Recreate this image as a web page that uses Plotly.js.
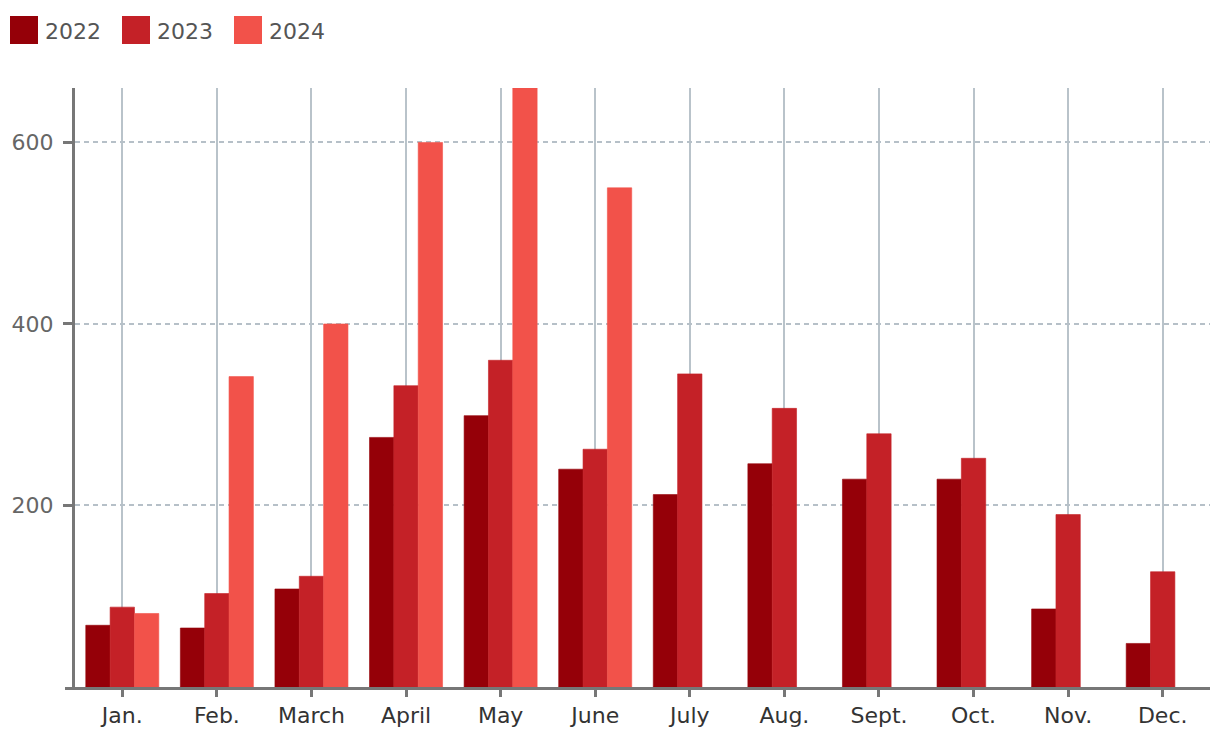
<!DOCTYPE html>
<html>
<head>
<meta charset="utf-8">
<script src="https://cdn.plot.ly/plotly-3.0.1.min.js"></script>
<style>html,body{margin:0;padding:0;background:#fff;}#chart{width:1220px;height:742px;}</style>
</head>
<body>
<div id="chart"></div>
<script>
const months = ["Jan.", "Feb.", "March", "April", "May", "June", "July", "Aug.", "Sept.", "Oct.", "Nov.", "Dec."];
const seriesNames = ["2022", "2023", "2024"];
const values2022 = [68, 65, 108, 275, 299, 240, 212, 246, 229, 229, 86, 48];
const values2023 = [88, 103, 122, 332, 360, 262, 345, 307, 279, 252, 190, 127];
const values2024 = [81, 342, 400, 600, 660, 550, null, null, null, null, null, null];
const colors = ["#950008", "#c42127", "#f2524a"];
const yTicks = [200, 400, 600];

const W = 1220, H = 742;
const M = {l: 75, r: 10, t: 88, b: 55};
const PW = W - M.l - M.r, PH = H - M.t - M.b;
const px = x => (x - M.l) / PW;
const py = y => (H - M.b - y) / PH;

const allVals = [values2022, values2023, values2024];
const traces = allVals.map((v, i) => ({
  type: "bar",
  name: seriesNames[i],
  x: months,
  y: v,
  marker: {color: colors[i], line: {width: 0.6, color: colors[i]}},
  hoverinfo: "none",
  showlegend: false
}));

const FONT = "'DejaVu Sans', Verdana, sans-serif";
const shapes = [];
const annotations = [];
seriesNames.forEach((n, i) => {
  const x0 = 10 + i * 112;
  shapes.push({type: "rect", xref: "paper", yref: "paper",
    x0: px(x0), x1: px(x0 + 28), y0: py(44), y1: py(16),
    fillcolor: colors[i], line: {width: 0}});
  annotations.push({xref: "paper", yref: "paper", x: px(x0 + 33), y: py(32),
    xanchor: "left", yanchor: "middle", text: n, showarrow: false,
    font: {family: FONT, size: 22, color: "#555"}});
});
// extension of x axis line to the left of the y axis
shapes.push({type: "line", xref: "paper", yref: "paper",
  x0: px(65), x1: px(76), y0: py(688.5), y1: py(688.5),
  line: {color: "#777", width: 3}});

const layout = {
  width: W, height: H,
  margin: M,
  paper_bgcolor: "#fff", plot_bgcolor: "#fff",
  barmode: "group", bargap: 0.228, bargroupgap: 0,
  showlegend: false,
  font: {family: FONT, size: 22, color: "#333"},
  xaxis: {
    type: "category",
    showgrid: true, gridcolor: "#b9c3ca", gridwidth: 2,
    showline: true, linecolor: "#777", linewidth: 3,
    ticks: "outside", ticklen: 7, tickwidth: 3, tickcolor: "#777",
    tickfont: {family: FONT, size: 22, color: "#333"},
    zeroline: false, fixedrange: true
  },
  yaxis: {
    range: [0, 660],
    tickvals: yTicks,
    ticktext: yTicks.map(String),
    showgrid: true, gridcolor: "#b6c0c8", gridwidth: 2, griddash: "5px,4px",
    showline: true, linecolor: "#777", linewidth: 3,
    ticks: "outside", ticklen: 9, tickwidth: 3, tickcolor: "#777",
    tickfont: {family: FONT, size: 22, color: "#666"},
    ticklabelstandoff: 5,
    zeroline: false, fixedrange: true
  },
  shapes: shapes,
  annotations: annotations
};

Plotly.newPlot("chart", traces, layout, {displayModeBar: false, staticPlot: true});
</script>
</body>
</html>
